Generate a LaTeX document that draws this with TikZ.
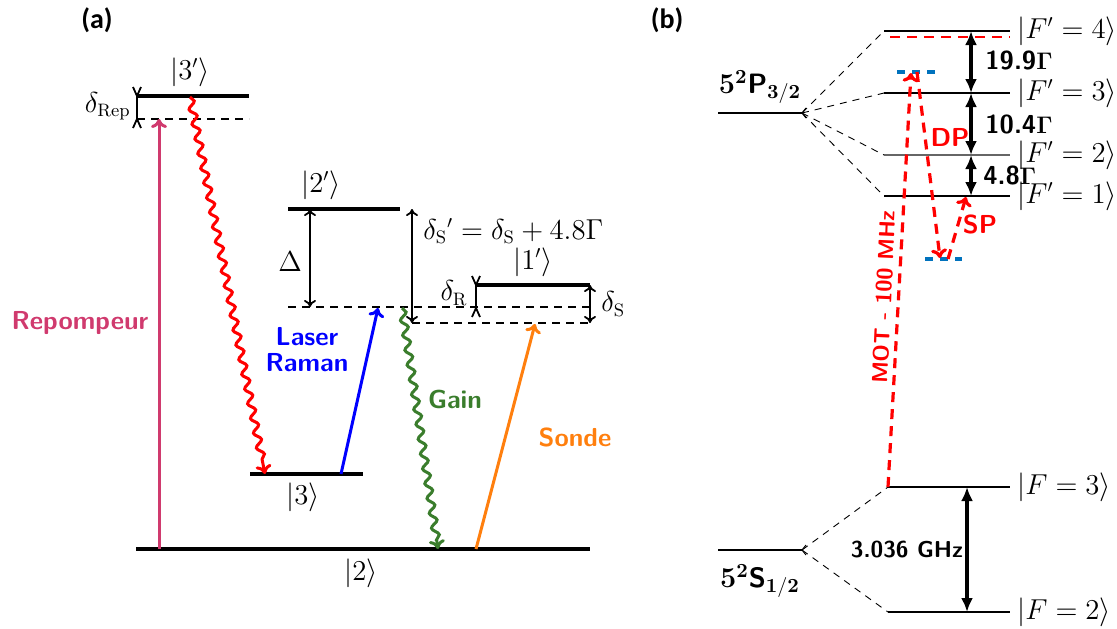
\documentclass[tikz,border=0pt]{standalone}
\usepackage[no-math]{fontspec}
\usepackage{amsmath}
\newfontfamily\carl{Carlito}
\usetikzlibrary{arrows.meta,decorations.pathmorphing}
\definecolor{rep}{RGB}{208,58,110}
\definecolor{gain}{RGB}{58,125,44}
\definecolor{sonde}{RGB}{255,127,14}
\definecolor{vblue}{RGB}{0,114,189}
\tikzset{
  every node/.style={font=\fontsize{13.5}{16}\selectfont, inner sep=1pt},
  lvl/.style={line width=1.9pt},
  virt/.style={line width=0.9pt, dash pattern=on 4pt off 3pt},
  hf/.style={line width=0.6pt},
  fan/.style={line width=0.45pt, dash pattern=on 3.5pt off 3pt},
  dbl/.style={line width=0.9pt, {To[length=3.5pt,width=6pt]}-{To[length=3.5pt,width=6pt]}},
  bigdbl/.style={line width=1.6pt, {Latex[length=7pt,width=6pt]}-{Latex[length=7pt,width=6pt]}},
  beam/.style={line width=1.5pt, -{To[length=4.5pt,width=8pt]}},
  wavy/.style={line width=1.5pt, -{To[length=4.5pt,width=8pt]}, decorate,
    decoration={snake, amplitude=1.7pt, segment length=7.5pt, post length=4pt}},
  rdash/.style={red, line width=1.6pt, dash pattern=on 5pt off 3.5pt, -{To[length=4.5pt,width=8pt]}},
  bdash/.style={vblue, line width=1.6pt, dash pattern=on 4pt off 3.5pt},
  lab/.style={font=\fontsize{13}{15}\sffamily\bfseries},
  rlab/.style={font=\fontsize{13.5}{16}\selectfont, anchor=west},
  term/.style={font=\fontsize{14}{16}\selectfont},
  wing/.style={line width=0.9pt},
}
\newcommand{\inhead}[3]{% x, y apex, direction (+1 wings below, -1 wings above)
  \draw[wing] (#1-4,#2+#3*9) -- (#1,#2) -- (#1+4,#2+#3*9);}
\begin{document}
\begin{tikzpicture}[x=0.5pt,y=-0.5pt]
\useasboundingbox (0,0) rectangle (1117,628);

% ---------------- (a) ----------------
\node[font=\fontsize{14}{16}\carl\bfseries] (la) at (97,20) {(a)};

% levels
\coordinate (l3pA) at (137,96);  \coordinate (l3pB) at (249,96);
\coordinate (v3pA) at (137,119); \coordinate (v3pB) at (249,119);
\coordinate (l2pA) at (288,209); \coordinate (l2pB) at (400,209);
\coordinate (vuA) at (288,307);  \coordinate (vuB) at (590,307);
\coordinate (vlA) at (412,323);  \coordinate (vlB) at (590,323);
\coordinate (l1pA) at (477,285); \coordinate (l1pB) at (590,285);
\coordinate (l3A) at (250,474);  \coordinate (l3B) at (363,474);
\coordinate (l2A) at (136,549);  \coordinate (l2B) at (590,549);

\draw[lvl] (l3pA) -- (l3pB);
\draw[virt] (v3pA) -- (v3pB);
\draw[lvl] (l2pA) -- (l2pB);
\draw[virt] (vuA) -- (vuB);
\draw[virt] (vlA) -- (vlB);
\draw[lvl] (l1pA) -- (l1pB);
\draw[lvl] (l3A) -- (l3B);
\draw[lvl] (l2A) -- (l2B);

\node (k3p) at (190,72) {$|3'\rangle$};
\node (k2p) at (321,185) {$|2'\rangle$};
\node (k1p) at (533,262) {$|1'\rangle$};
\node (k3) at (303,497) {$|3\rangle$};
\node (k2) at (361,573) {$|2\rangle$};

% delta Rep marker
\draw[wing] (l3pA) -- (v3pA);
\inhead{137}{96}{-1}
\inhead{137}{119}{1}
\node[anchor=east] (dRep) at (133,106) {$\delta_{\mathrm{Rep}}$};

% delta R marker
\coordinate (dRt) at (476,285); \coordinate (dRb) at (476,308);
\draw[wing] (dRt) -- (dRb);
\inhead{476}{285}{-1}
\inhead{476}{308}{1}
\node[anchor=east] (dR) at (470,293) {$\delta_{\mathrm{R}}$};

% Delta
\coordinate (DeT) at (310,209); \coordinate (DeB) at (310,307);
\draw[dbl] (DeT) -- (DeB);
\node (De) at (290,262) {$\Delta$};

% delta S'
\coordinate (dSpT) at (412,209); \coordinate (dSpB) at (412,323);
\draw[dbl] (dSpT) -- (dSpB);
\node[anchor=west] (dSp) at (421,231) {$\delta_{\mathrm{S}}{}' = \delta_{\mathrm{S}} + 4.8\Gamma$};

% delta S
\coordinate (dST) at (590,285); \coordinate (dSB) at (590,323);
\draw[dbl] (dST) -- (dSB);
\node[anchor=west] (dS) at (599,304) {$\delta_{\mathrm{S}}$};

% transitions
\coordinate (repA) at (159,549); \coordinate (repB) at (159,119);
\draw[beam, rep] (repA) -- (repB);
\node[lab, rep] (repL) at (80,323) {Repompeur};

\coordinate (spA) at (190,97); \coordinate (spB) at (265,474);
\draw[wavy, red] (spA) -- (spB);

\coordinate (ramA) at (341,474); \coordinate (ramB) at (378,308);
\draw[beam, blue] (ramA) -- (ramB);
\node[lab, blue, align=center] (ramL) at (307,350) {Laser\\[-2pt]Raman};

\coordinate (gA) at (402,308); \coordinate (gB) at (438,549);
\draw[wavy, gain] (gA) -- (gB);
\node[lab, gain] (gL) at (455,399) {Gain};

\coordinate (soA) at (476,549); \coordinate (soB) at (535,324);
\draw[beam, sonde] (soA) -- (soB);
\node[lab, sonde] (soL) at (575,437) {Sonde};

% ---------------- (b) ----------------
\node[font=\fontsize{14}{16}\carl\bfseries] (lb) at (667,20) {(b)};

\coordinate (Pa) at (718,113); \coordinate (Pj) at (802,113);
\draw[hf] (Pa) -- (Pj);
\node[term] (Plab) at (760,87) {$\mathbf{5^2}$\textsf{\textbf{P}}$_{\mathbf{3/2}}$};

\coordinate (F4a) at (884,31);  \coordinate (F4b) at (1010,31);
\coordinate (F3a) at (884,93);  \coordinate (F3b) at (1010,93);
\coordinate (F2a) at (884,155); \coordinate (F2b) at (1010,155);
\coordinate (F1a) at (884,196); \coordinate (F1b) at (1010,196);
\draw[hf] (F4a) -- (F4b);
\draw[hf] (F3a) -- (F3b);
\draw[hf, black!60] (F2a) -- (F2b);
\draw[hf] (F1a) -- (F1b);
\draw[fan] (Pj) -- (F4a);
\draw[fan] (Pj) -- (F3a);
\draw[fan] (Pj) -- (F2a);
\draw[fan] (Pj) -- (F1a);
\draw[line width=0.5pt] (806,108) -- (Pj) -- (806,118);

\node[rlab] (kF4) at (1015,31) {$|F'=4\rangle$};
\node[rlab] (kF3) at (1015,93) {$|F'=3\rangle$};
\node[rlab] (kF2) at (1015,155) {$|F'=2\rangle$};
\node[rlab] (kF1) at (1015,196) {$|F'=1\rangle$};

\coordinate (redA) at (890,37); \coordinate (redB) at (1010,37);
\draw[red, line width=1.2pt, dash pattern=on 5pt off 3.5pt] (redA) -- (redB);

\coordinate (a1) at (971,31); \coordinate (a2) at (971,93);
\coordinate (a3) at (971,155); \coordinate (a4) at (971,196);
\draw[bigdbl] (a1) -- (a2);
\draw[bigdbl] (a2) -- (a3);
\draw[bigdbl] (a3) -- (a4);
\node[lab, anchor=west] (g1) at (983,60) {19.9$\mathbf{\Gamma}$};
\node[lab, anchor=west] (g2) at (983,124) {10.4$\mathbf{\Gamma}$};
\node[lab, anchor=west] (g3) at (981,175) {4.8$\mathbf{\Gamma}$};

% virtual levels
\coordinate (vbA) at (897,72); \coordinate (vbB) at (935,72);
\coordinate (vcA) at (925,259); \coordinate (vcB) at (962,259);
\draw[bdash] (vbA) -- (vbB);
\draw[bdash] (vcA) -- (vcB);

% S levels
\coordinate (Sa) at (718,550); \coordinate (Sj) at (802,550);
\draw[hf] (Sa) -- (Sj);
\node[term] (Slab) at (760,581) {$\mathbf{5^2}$\textsf{\textbf{S}}$_{\mathbf{1/2}}$};
\coordinate (S3a) at (888,487); \coordinate (S3b) at (1010,487);
\coordinate (S2a) at (888,612); \coordinate (S2b) at (1010,612);
\draw[hf] (S3a) -- (S3b);
\draw[hf] (S2a) -- (S2b);
\draw[fan] (Sj) -- (S3a);
\draw[fan] (Sj) -- (S2a);
\draw[line width=0.5pt] (806,545) -- (Sj) -- (806,555);
\node[rlab] (kS3) at (1015,487) {$|F=3\rangle$};
\node[rlab] (kS2) at (1015,612) {$|F=2\rangle$};
\coordinate (b1) at (967,487); \coordinate (b2) at (967,612);
\draw[bigdbl] (b1) -- (b2);
\node[font=\fontsize{11.5}{14}\sffamily\bfseries] (ghz) at (907,550) {3.036 GHz};

% red dashed transitions
\coordinate (motA) at (888,487); \coordinate (motB) at (911,73);
\draw[rdash] (motA) -- (motB);
\node[red, font=\fontsize{11}{13}\sffamily\bfseries, rotate=87.5] (motL) at (884,297) {MOT - 100 MHz};
\coordinate (dpA) at (917,72); \coordinate (dpB) at (940,258);
\draw[rdash] (dpA) -- (dpB);
\node[lab, red] (dpL) at (950,137) {DP};
\coordinate (spA2) at (948,259); \coordinate (spB2) at (966,197);
\draw[rdash] (spA2) -- (spB2);
\node[lab, red] (spL) at (980,224) {SP};
\end{tikzpicture}
\end{document}
